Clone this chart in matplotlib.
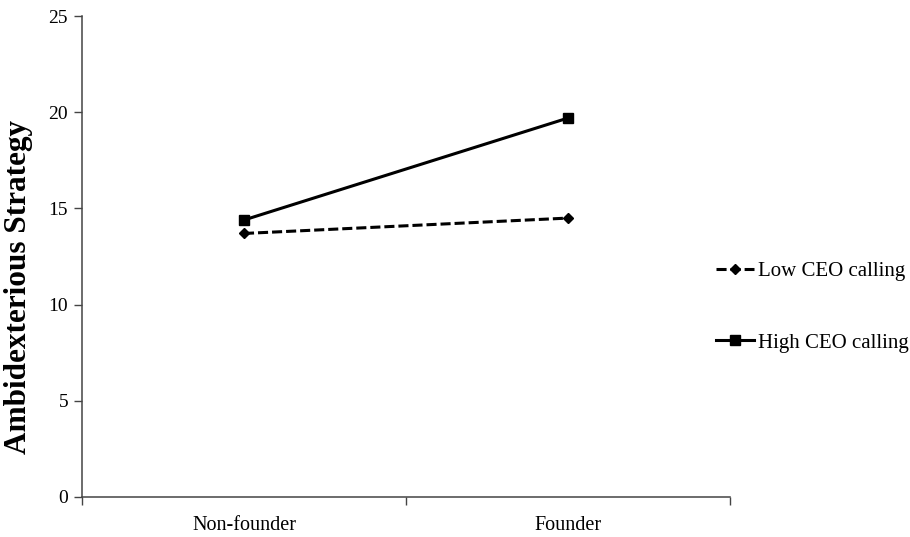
import numpy as np
import matplotlib.pyplot as plt

plt.rcParams['font.family'] = ['Liberation Serif', 'DejaVu Serif']

categories = ['Non-founder', 'Founder']
low_calling = [13.7, 14.5]
high_calling = [14.4, 19.7]
y_ticks = [0, 5, 10, 15, 20, 25]

fig = plt.figure(figsize=(9.1, 5.37), dpi=100)
ax = fig.add_axes([0.0901, 0.0745, 0.712, 0.8955])

x = np.arange(len(categories)) + 0.5
ax.plot(x, low_calling, color='black', linestyle=(0, (3.3, 1.3)), linewidth=2.2,
        marker='D', markersize=5.5, label='Low CEO calling')
ax.plot(x, high_calling, color='black', linestyle='-', linewidth=2.2,
        marker='s', markersize=7, label='High CEO calling')

ax.set_xlim(0, 2)
ax.set_ylim(0, 25)
ax.set_yticks(y_ticks)
ax.tick_params(axis='y', labelsize=14, length=6, width=1, color='#444444', pad=4)

# category boundaries as ticks, labels centred between them
ax.set_xticks([0, 1, 2])
ax.set_xticklabels([])
ax.set_xticks(x, minor=True)
ax.set_xticklabels(categories, minor=True, fontsize=14.5)
ax.tick_params(axis='x', which='major', length=6, width=1, color='#444444')
ax.tick_params(axis='x', which='minor', length=0, pad=14)

for s in ['top', 'right']:
    ax.spines[s].set_visible(False)
for s in ['left', 'bottom']:
    ax.spines[s].set_color('#444444')
    ax.spines[s].set_linewidth(1.1)

ax.set_ylabel('Ambidexterious Strategy', fontsize=22.5, fontweight='bold')
ax.yaxis.set_label_coords(-0.076, 0.437)

fig.legend(loc='upper left', bbox_to_anchor=(0.787, 0.513), frameon=False,
           fontsize=15, handlelength=1.83, labelspacing=2.5, handletextpad=0.2,
           borderpad=0, borderaxespad=0)

fig.savefig('out.png', dpi=100)
